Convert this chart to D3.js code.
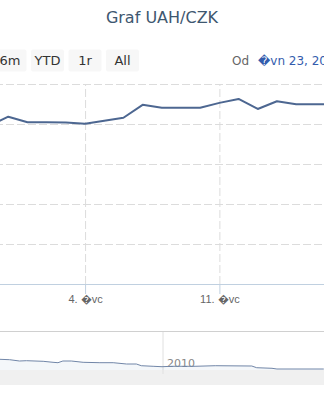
<!DOCTYPE html>
<html>
<head>
<meta charset="utf-8">
<script src="https://cdn.jsdelivr.net/npm/d3@7"></script>
<style>
  body { margin: 0; background: #fff; overflow: hidden; }
  svg { display: block; font-family: "DejaVu Sans", Verdana, sans-serif; }
  .grid line { stroke: #dcdcdc; stroke-dasharray: 8,3; }
  .grid path { display: none; }
  .xaxis path { stroke: #c0d0e0; }
  .xaxis line { stroke: #c0d0e0; }
  .xaxis text { fill: #666; font-size: 11px; }
</style>
</head>
<body>
<div id="chart"></div>
<script>
// UAH/CZK exchange rate, Highstock-like crop

const WIDTH = 324;
const HEIGHT = 400;

// ---- data ----
const mainDates = [
  "2013-06-29", "2013-06-30", "2013-07-01", "2013-07-02", "2013-07-03",
  "2013-07-04", "2013-07-05", "2013-07-06", "2013-07-07", "2013-07-08",
  "2013-07-09", "2013-07-10", "2013-07-11", "2013-07-12", "2013-07-13",
  "2013-07-14", "2013-07-15", "2013-07-16", "2013-07-17"
];
const mainRates = [
  2.4478, 2.4591, 2.4521, 2.4521, 2.4520,
  2.4504, 2.4540, 2.4578, 2.4740, 2.4704,
  2.4704, 2.4704, 2.4764, 2.4813, 2.4688,
  2.4785, 2.4746, 2.4746, 2.4746
];

const navDates = [
  "2009-02-04", "2009-02-24", "2009-03-16", "2009-03-30", "2009-05-03",
  "2009-05-23", "2009-06-02", "2009-06-12", "2009-06-29", "2009-07-23",
  "2009-08-26", "2009-09-22", "2009-10-19", "2009-11-08", "2009-11-18",
  "2009-12-12", "2009-12-30", "2010-01-19", "2010-03-07", "2010-04-17",
  "2010-06-30", "2010-07-10", "2010-08-10", "2010-08-20", "2010-11-23"
];
const navRates = [
  2.639, 2.623, 2.569, 2.582, 2.557,
  2.516, 2.500, 2.569, 2.569, 2.516,
  2.500, 2.500, 2.446, 2.446, 2.376,
  2.352, 2.335, 2.352, 2.352, 2.376,
  2.364, 2.294, 2.270, 2.241, 2.241
];

const yTicks = [2.25, 2.30, 2.35, 2.40, 2.45, 2.50];
const xTickDates = ["2013-07-04", "2013-07-11"];
const xTickLabels = ["4. \uFFFDvc", "11. \uFFFDvc"];
const navYearTicks = ["2010-01-01"];
const navYearLabels = ["2010"];
const buttonLabels = ["6m", "YTD", "1r", "All"];
const titleText = "Graf UAH/CZK";
const fromLabel = "Od";
const fromDate = "\uFFFDvn 23, 2013";

// ---- layout ----
const parseDate = d3.timeParse("%Y-%m-%d");
const X_LEFT = -126, X_RIGHT = 334.5;     // plot spans wider than the crop
const PLOT_TOP = 84, PLOT_BOTTOM = 284;
const NAV_TOP = 331, NAV_BOTTOM = 370, SCROLL_H = 15;

const svg = d3.select("#chart").append("svg")
  .attr("width", WIDTH)
  .attr("height", HEIGHT);

// Title
svg.append("text")
  .attr("x", WIDTH / 2)
  .attr("y", 23)
  .attr("text-anchor", "middle")
  .attr("fill", "#3e576f")
  .style("font-size", "16px")
  .text(titleText);

// Range selector buttons
const btn = svg.append("g").selectAll("g")
  .data(buttonLabels)
  .join("g")
  .attr("transform", (d, i) => `translate(${-6.5 + i * 37.5},49.5)`);
btn.append("rect")
  .attr("width", 33).attr("height", 22)
  .attr("rx", 2)
  .attr("fill", "#f7f7f7");
btn.append("text")
  .attr("x", 16.5).attr("y", 15.5)
  .attr("text-anchor", "middle")
  .attr("fill", "#333")
  .style("font-size", "13px")
  .text(d => d);

svg.append("text")
  .attr("x", 232).attr("y", 65)
  .attr("fill", "#666")
  .style("font-size", "12px")
  .text(fromLabel);
svg.append("text")
  .attr("x", 258).attr("y", 65)
  .attr("fill", "#335cad")
  .style("font-size", "12px")
  .text(fromDate);

// ---- main chart ----
const x = d3.scaleTime()
  .domain([parseDate("2013-06-23"), parseDate("2013-07-17")])
  .range([X_LEFT, X_RIGHT]);
const y = d3.scaleLinear()
  .domain([2.25, 2.50])
  .range([PLOT_BOTTOM, PLOT_TOP]);

// horizontal grid
svg.append("g")
  .attr("class", "grid")
  .attr("transform", `translate(${X_LEFT},0)`)
  .call(d3.axisLeft(y).tickValues(yTicks.slice(1)).tickSize(-(X_RIGHT - X_LEFT)).tickFormat(""));

// vertical grid
svg.append("g")
  .attr("class", "grid")
  .attr("transform", `translate(0,${PLOT_BOTTOM})`)
  .call(d3.axisBottom(x).tickValues(xTickDates.map(parseDate))
    .tickSize(-(PLOT_BOTTOM - PLOT_TOP)).tickFormat(""));

// x axis
svg.append("g")
  .attr("class", "xaxis")
  .attr("transform", `translate(0,${PLOT_BOTTOM})`)
  .call(d3.axisBottom(x).tickValues(xTickDates.map(parseDate))
    .tickSizeInner(10).tickSizeOuter(0).tickPadding(1)
    .tickFormat((d, i) => xTickLabels[i]));

const mainData = mainDates.map((d, i) => ({ date: parseDate(d), v: mainRates[i] }));
svg.append("path")
  .datum(mainData)
  .attr("fill", "none")
  .attr("stroke", "#4d6791")
  .attr("stroke-width", 2)
  .attr("stroke-linejoin", "round")
  .attr("d", d3.line().x(d => x(d.date)).y(d => y(d.v)));

// ---- navigator ----
const nx = d3.scaleTime()
  .domain([parseDate("2009-01-01"), parseDate("2011-01-01")])
  .range([-17, 343]);
const ny = d3.scaleLinear()
  .domain([2.2, 3.8])
  .range([NAV_BOTTOM, NAV_TOP]);

// scrollbar track
svg.append("rect")
  .attr("x", 0).attr("y", NAV_BOTTOM)
  .attr("width", WIDTH).attr("height", SCROLL_H)
  .attr("fill", "#f0f0f0");

// year gridline + label
const years = navYearTicks.map(parseDate);
svg.append("g").selectAll("line")
  .data(years)
  .join("line")
  .attr("x1", d => nx(d)).attr("x2", d => nx(d))
  .attr("y1", NAV_TOP).attr("y2", NAV_BOTTOM + 4)
  .attr("stroke", "#e0e0e0");
svg.append("g").selectAll("text")
  .data(years)
  .join("text")
  .attr("x", d => nx(d) + 4)
  .attr("y", 367)
  .attr("fill", "#888")
  .style("font-size", "11px")
  .text((d, i) => navYearLabels[i]);

const navData = navDates.map((d, i) => ({ date: parseDate(d), v: navRates[i] }));
svg.append("path")
  .datum(navData)
  .attr("fill", "rgba(69,114,167,0.06)")
  .attr("d", d3.area().x(d => nx(d.date)).y0(NAV_BOTTOM).y1(d => ny(d.v)));
svg.append("path")
  .datum(navData)
  .attr("fill", "none")
  .attr("stroke", "#7186a8")
  .attr("stroke-width", 1)
  .attr("d", d3.line().x(d => nx(d.date)).y(d => ny(d.v)));

// navigator outline
svg.append("line")
  .attr("x1", 0).attr("x2", WIDTH)
  .attr("y1", NAV_TOP + 0.5).attr("y2", NAV_TOP + 0.5)
  .attr("stroke", "#d0d0d0");
</script>
</body>
</html>
